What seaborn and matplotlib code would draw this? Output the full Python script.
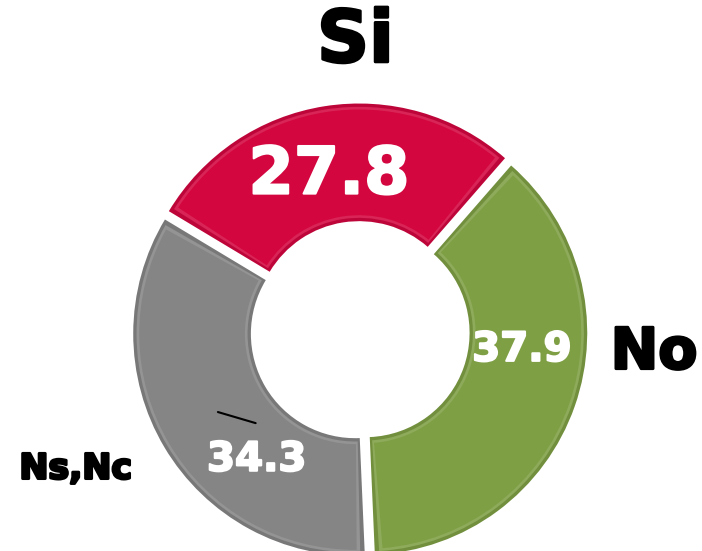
import numpy as np
import matplotlib
matplotlib.use("Agg")
import matplotlib.pyplot as plt
import matplotlib.patheffects as pe
from matplotlib.patches import Wedge
import seaborn as sns

# data
categories = ["Si", "No", "Ns,Nc"]
values = [27.8, 37.9, 34.3]
value_labels = ["27.8", "37.9", "34.3"]
colors = ["#D3063F", "#7F9F45", "#858585"]

sns.set_theme(style="white")
plt.rcParams['font.family'] = ['DejaVu Sans']

fig = plt.figure(figsize=(7.02, 5.51), dpi=100)
ax = fig.add_axes([0, 0, 1, 1])

R = 222.0
cx, cy = 360, 331
width = 0.53
wedges, _ = ax.pie(values, colors=colors, startangle=149, counterclock=False,
                   explode=[0.025] * 3, radius=1.0,
                   wedgeprops=dict(width=width, edgecolor="none"))

ax.set_xlim(-cx / R, (702 - cx) / R)
ax.set_ylim(-(551 - cy) / R, cy / R)
ax.set_aspect("equal")
ax.axis("off")


def shade(c, f):
    r, g, b = matplotlib.colors.to_rgb(c)
    if f > 1:
        return (r + (1 - r) * (f - 1), g + (1 - g) * (f - 1), b + (1 - b) * (f - 1))
    return (r * f, g * f, b * f)


# bevel: darker rim, lighter band, then the base face
for w, c in zip(wedges, colors):
    w.set_facecolor(shade(c, 0.9))
    (x0, y0), r, th1, th2 = w.center, w.r, w.theta1, w.theta2
    inset = 0.015
    dth = np.degrees(inset / (r - width / 2))
    ax.add_patch(Wedge((x0, y0), r - inset, th1 + dth, th2 - dth,
                       width=width - 2 * inset, facecolor=shade(c, 1.12),
                       edgecolor="none"))
    ax.add_patch(Wedge((x0, y0), r - inset * 1.8, th1 + dth * 1.8, th2 - dth * 1.8,
                       width=width - 3.6 * inset, facecolor=c, edgecolor="none"))

stroke_w = [pe.withStroke(linewidth=1.5, foreground="white")]
stroke_k = [pe.withStroke(linewidth=2, foreground="black")]

# values inside the ring
value_pos = [(-0.14, 0.70), (0.73, -0.085), (-0.465, -0.58)]
value_size = [47, 29, 29]
for lab, (x, y), s in zip(value_labels, value_pos, value_size):
    ax.text(x, y, lab, ha="center", va="center", color="white",
            fontsize=s, fontweight="bold", path_effects=stroke_w)

# category names outside
name_pos = [(-0.02, 1.30), (1.325, -0.10), (-1.28, -0.62)]
name_size = [52, 41, 25]
for lab, (x, y), s in zip(categories, name_pos, name_size):
    ax.text(x, y, lab, ha="center", va="center", color="black",
            fontsize=s, fontweight="bold", path_effects=stroke_k)

# small leader line near the gray label
ax.plot([-0.64, -0.47], [-0.365, -0.415], color="black", lw=1.5)

fig.savefig("out.png", dpi=100)
